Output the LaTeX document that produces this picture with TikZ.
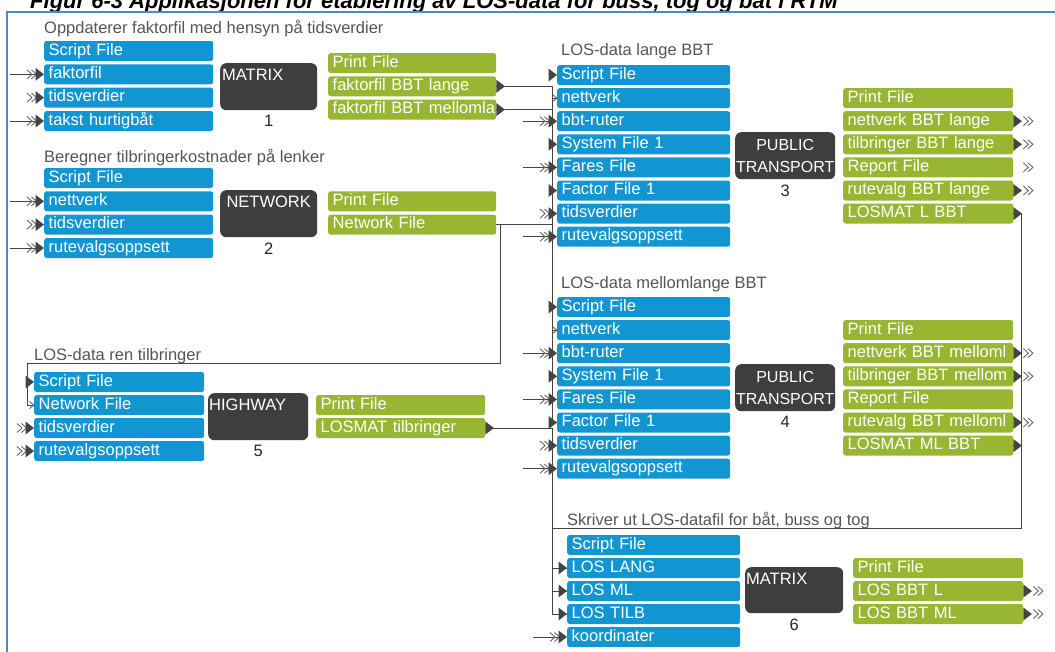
\documentclass[tikz,border=0pt]{standalone}
\usepackage{fontspec}
\setmainfont{Liberation Sans}
\usetikzlibrary{calc}

\definecolor{fileblue}{RGB}{18,150,210}
\definecolor{filegreen}{RGB}{152,182,50}
\definecolor{progdark}{RGB}{62,62,62}
\definecolor{wire}{RGB}{68,68,68}
\definecolor{chevgray}{RGB}{95,95,95}
\definecolor{headgray}{RGB}{85,85,85}
\definecolor{frameblue}{RGB}{84,134,198}

\newcommand{\rowfont}{\fontsize{16.5}{19}\selectfont}
\newcommand{\progfont}{\fontsize{16.5}{22}\selectfont}
\newcommand{\ptfont}{\fontsize{16}{22}\selectfont}

\tikzset{
  filebox/.style={rectangle, rounded corners=2.5pt, minimum height=20pt,
    inner ysep=0pt, inner xsep=4.5pt, text=white, anchor=west, font=\rowfont,
    text height=12pt, text depth=3.5pt, align=left},
  inbox/.style={filebox, fill=fileblue, text width=#1},
  outbox/.style={filebox, fill=filegreen, text width=#1},
  prog/.style={rectangle, rounded corners=6pt, fill=progdark, anchor=north west,
    inner sep=0pt, text=white, font=\ptfont, align=center},
  proglabel/.style={text=white, font=\progfont, inner sep=0pt},
  steplabel/.style={anchor=north, text=black!85, font=\progfont, inner sep=0pt, yshift=-5pt},
  grouphead/.style={anchor=west, text=headgray, font=\rowfont, inner sep=0pt,
    text height=12pt, text depth=3.5pt},
  wireline/.style={draw=wire, line width=1pt},
  chev/.style={draw=chevgray, line width=0.85pt},
  % input markers at the west side of a file box
  feedline/.pic={
    \draw[wireline] (-34,0) -- (-8,0);
    \draw[chev] (-17,-4.5) -- (-12,0) -- (-17,4.5) (-12.5,-4.5) -- (-7.5,0) -- (-12.5,4.5);
    \fill[wire] (-8.5,-6.5) -- (0,0) -- (-8.5,6.5) -- cycle;
  },
  feed/.pic={
    \draw[chev] (-17,-4.5) -- (-12,0) -- (-17,4.5) (-12.5,-4.5) -- (-7.5,0) -- (-12.5,4.5);
    \fill[wire] (-8.5,-6.5) -- (0,0) -- (-8.5,6.5) -- cycle;
  },
  tip/.pic={\fill[wire] (-8.5,-6.5) -- (0,0) -- (-8.5,6.5) -- cycle;},
  smalltip/.pic={\draw[chev] (-4.5,-3.5) -- (0,0) -- (-4.5,3.5);},
  % output markers at the east side of a file box
  emit/.pic={
    \fill[wire] (0,-6.5) -- (8.5,0) -- (0,6.5) -- cycle;
    \draw[chev] (10,-4.5) -- (15,0) -- (10,4.5) (14.5,-4.5) -- (19.5,0) -- (14.5,4.5);
  },
  emitchev/.pic={\draw[chev] (10,-4.5) -- (15,0) -- (10,4.5) (14.5,-4.5) -- (19.5,0) -- (14.5,4.5);},
  emittip/.pic={\fill[wire] (0,-6.5) -- (8.5,0) -- (0,6.5) -- cycle;},
}

\begin{document}
\begin{tikzpicture}[x=1pt,y=-1pt]
\useasboundingbox (0,0) rectangle (1055,651);
\clip (0,0) rectangle (1055,651);
\fill[white] (0,0) rectangle (1055,651);

% figure caption and frame
\node[anchor=base west, inner sep=0pt, font=\fontsize{22}{24}\selectfont\bfseries\itshape] (caption)
  at (30,8) {Figur 6-3 Applikasjonen for etablering av LOS-data for buss, tog og båt i RTM};
\draw[frameblue, line width=2.2pt] (7,700) -- (7,12) -- (1100,12);

% ---------- step 1: MATRIX ----------
\node[grouphead] (h1) at (44,29) {Oppdaterer faktorfil med hensyn på tidsverdier};
\node[inbox=160pt] (a1) at (44,51) {Script File};
\node[inbox=160pt] (a2) at (44,74.3) {faktorfil};
\node[inbox=160pt] (a3) at (44,97.6) {tidsverdier};
\node[inbox=160pt] (a4) at (44,121) {takst hurtigbåt};
\node[prog, minimum width=97pt, minimum height=47pt,
  label={[proglabel, anchor=north west, xshift=2pt, yshift=-6pt]north west:MATRIX},
  label={[steplabel]south:1}] (p1) at (220,63) {};
\node[outbox=159pt] (b1) at (328,63) {Print File};
\node[outbox=159pt] (b2) at (328,86.3) {faktorfil BBT lange};
\node[outbox=159pt] (b3) at (328,109.6) {\mbox{faktorfil BBT mellomla}};

% ---------- step 2: NETWORK ----------
\node[grouphead] (h2) at (44,158) {Beregner tilbringerkostnader på lenker};
\node[inbox=160pt] (e1) at (44,178) {Script File};
\node[inbox=160pt] (e2) at (44,201.3) {nettverk};
\node[inbox=160pt] (e3) at (44,224.6) {tidsverdier};
\node[inbox=160pt] (e4) at (44,248) {rutevalgsoppsett};
\node[prog, minimum width=97pt, minimum height=47pt,
  label={[proglabel, anchor=north, yshift=-6pt]north:NETWORK},
  label={[steplabel]south:2}] (p2) at (220,190) {};
\node[outbox=159pt] (n1) at (328,201.3) {Print File};
\node[outbox=159pt] (n2) at (328,224.6) {Network File};

% ---------- step 5: HIGHWAY ----------
\node[grouphead] (h5) at (34,356) {LOS-data ren tilbringer};
\node[inbox=161pt] (k1) at (34,382) {Script File};
\node[inbox=161pt] (k2) at (34,405) {Network File};
\node[inbox=161pt] (k3) at (34,428) {tidsverdier};
\node[inbox=161pt] (k4) at (34,451) {rutevalgsoppsett};
\node[prog, minimum width=100pt, minimum height=47pt,
  label={[proglabel, anchor=north west, xshift=1pt, yshift=-6pt]north west:HIGHWAY},
  label={[steplabel]south:5}] (p5) at (208,393) {};
\node[outbox=160pt] (g1) at (316,405) {Print File};
\node[outbox=160pt] (g2) at (316,428) {LOSMAT tilbringer};

% ---------- step 3: PUBLIC TRANSPORT (lange) ----------
\node[grouphead] (h3) at (561,51) {LOS-data lange BBT};
\node[inbox=164pt] (c1) at (557,75) {Script File};
\node[inbox=164pt] (c2) at (557,98.1) {nettverk};
\node[inbox=164pt] (c3) at (557,121.2) {bbt-ruter};
\node[inbox=164pt] (c4) at (557,144.3) {System File 1};
\node[inbox=164pt] (c5) at (557,167.4) {Fares File};
\node[inbox=164pt] (c6) at (557,190.5) {Factor File 1};
\node[inbox=164pt] (c7) at (557,213.6) {tidsverdier};
\node[inbox=164pt] (c8) at (557,236.7) {rutevalgsoppsett};
\node[prog, minimum width=100pt, minimum height=47pt,
  label={[steplabel]south:3}] (p3) at (735,132) {PUBLIC\\TRANSPORT};
\node[outbox=161pt] (q1) at (843,98.1) {Print File};
\node[outbox=161pt] (q2) at (843,121.2) {nettverk BBT lange};
\node[outbox=161pt] (q3) at (843,144.3) {tilbringer BBT lange};
\node[outbox=161pt] (q4) at (843,167.4) {Report File};
\node[outbox=161pt] (q5) at (843,190.5) {rutevalg BBT lange};
\node[outbox=161pt] (q6) at (843,213.6) {LOSMAT L BBT};

% ---------- step 4: PUBLIC TRANSPORT (mellomlange) ----------
\node[grouphead] (h4) at (561,284) {LOS-data mellomlange BBT};
\node[inbox=164pt] (d1) at (557,307) {Script File};
\node[inbox=164pt] (d2) at (557,330.1) {nettverk};
\node[inbox=164pt] (d3) at (557,353.2) {bbt-ruter};
\node[inbox=164pt] (d4) at (557,376.3) {System File 1};
\node[inbox=164pt] (d5) at (557,399.4) {Fares File};
\node[inbox=164pt] (d6) at (557,422.5) {Factor File 1};
\node[inbox=164pt] (d7) at (557,445.6) {tidsverdier};
\node[inbox=164pt] (d8) at (557,468.7) {rutevalgsoppsett};
\node[prog, minimum width=100pt, minimum height=47pt,
  label={[steplabel]south:4}] (p4) at (735,364) {PUBLIC\\TRANSPORT};
\node[outbox=161pt] (r1) at (843,330.1) {Print File};
\node[outbox=161pt] (r2) at (843,353.2) {\mbox{nettverk BBT melloml}};
\node[outbox=161pt] (r3) at (843,376.3) {\mbox{tilbringer BBT mellom}};
\node[outbox=161pt] (r4) at (843,399.4) {Report File};
\node[outbox=161pt] (r5) at (843,422.5) {\mbox{rutevalg BBT melloml}};
\node[outbox=161pt] (r6) at (843,445.6) {LOSMAT ML BBT};

% ---------- step 6: MATRIX ----------
\node[grouphead] (h6) at (567,521) {Skriver ut LOS-datafil for båt, buss og tog};
\node[inbox=164pt] (m1) at (567,545) {Script File};
\node[inbox=164pt] (m2) at (567,568) {LOS LANG};
\node[inbox=164pt] (m3) at (567,591) {LOS ML};
\node[inbox=164pt] (m4) at (567,614) {LOS TILB};
\node[inbox=164pt] (m5) at (567,637) {koordinater};
\node[prog, minimum width=98pt, minimum height=46pt,
  label={[proglabel, anchor=north west, xshift=1pt, yshift=-6pt]north west:MATRIX},
  label={[steplabel]south:6}] (p6) at (745,567) {};
\node[outbox=161pt] (s1) at (853,568) {Print File};
\node[outbox=161pt] (s2) at (853,591) {LOS BBT L};
\node[outbox=161pt] (s3) at (853,614) {LOS BBT ML};

% ---------- connectors ----------
\coordinate (bx) at (552,0);
\coordinate (rx) at (1021,0);
\coordinate (ry) at (0,528);
\coordinate (nfx) at (500,363);
\coordinate (lpx) at (27,363);

\draw[wireline] (b2.east) -| (bx |- c6.west) -- (c6.west);
\draw[wireline] (b3.east) -| (bx |- d6.west) -- (d6.west);
\draw[wireline] (n2.east) -| (bx |- c2.west) -- (c2.west);
\draw[wireline] (n2.east) -| (bx |- d2.west) -- (d2.west);
\draw[wireline] (n2.east) -| (nfx) -- (lpx) |- (k2.west);
\draw[wireline] (g2.east) -| (bx |- m4.west) -- (m4.west);
\draw[wireline] (q6.east) -| (rx |- ry) -| (bx |- m2.west) -- (m2.west);
\draw[wireline] (r6.east) -| (rx |- ry) -| (bx |- m3.west) -- (m3.west);

% ---------- port markers ----------
% step 1
\pic at (a2.west) {feedline};
\pic at (a3.west) {feed};
\pic at (a4.west) {feedline};
\pic at (b2.east) {emittip};
\pic at (b3.east) {emittip};
% step 2
\pic at (e2.west) {feedline};
\pic at (e3.west) {feed};
\pic at (e4.west) {feedline};
% step 5
\pic at (k1.west) {tip};
\pic at (k2.west) {smalltip};
\pic at (k3.west) {feed};
\pic at (k4.west) {feed};
\pic at (g2.east) {emittip};
% step 3
\pic at (c1.west) {tip};
\pic at (c2.west) {smalltip};
\pic at (c3.west) {feedline};
\pic at (c4.west) {tip};
\pic at (c5.west) {feedline};
\pic at (c6.west) {tip};
\pic at (c7.west) {feed};
\pic at (c8.west) {feedline};
\pic at (q2.east) {emit};
\pic at (q3.east) {emit};
\pic at (q4.east) {emitchev};
\pic at (q5.east) {emit};
\pic at (q6.east) {emittip};
% step 4
\pic at (d1.west) {tip};
\pic at (d2.west) {smalltip};
\pic at (d3.west) {feedline};
\pic at (d4.west) {tip};
\pic at (d5.west) {feedline};
\pic at (d6.west) {tip};
\pic at (d7.west) {feed};
\pic at (d8.west) {feedline};
\pic at (r2.east) {emit};
\pic at (r3.east) {emit};
\pic at (r5.east) {emit};
\pic at (r6.east) {emittip};
% step 6
\pic at (m2.west) {tip};
\pic at (m3.west) {tip};
\pic at (m4.west) {tip};
\pic at (m5.west) {feedline};
\pic at (s2.east) {emit};
\pic at (s3.east) {emit};
\end{tikzpicture}
\end{document}
